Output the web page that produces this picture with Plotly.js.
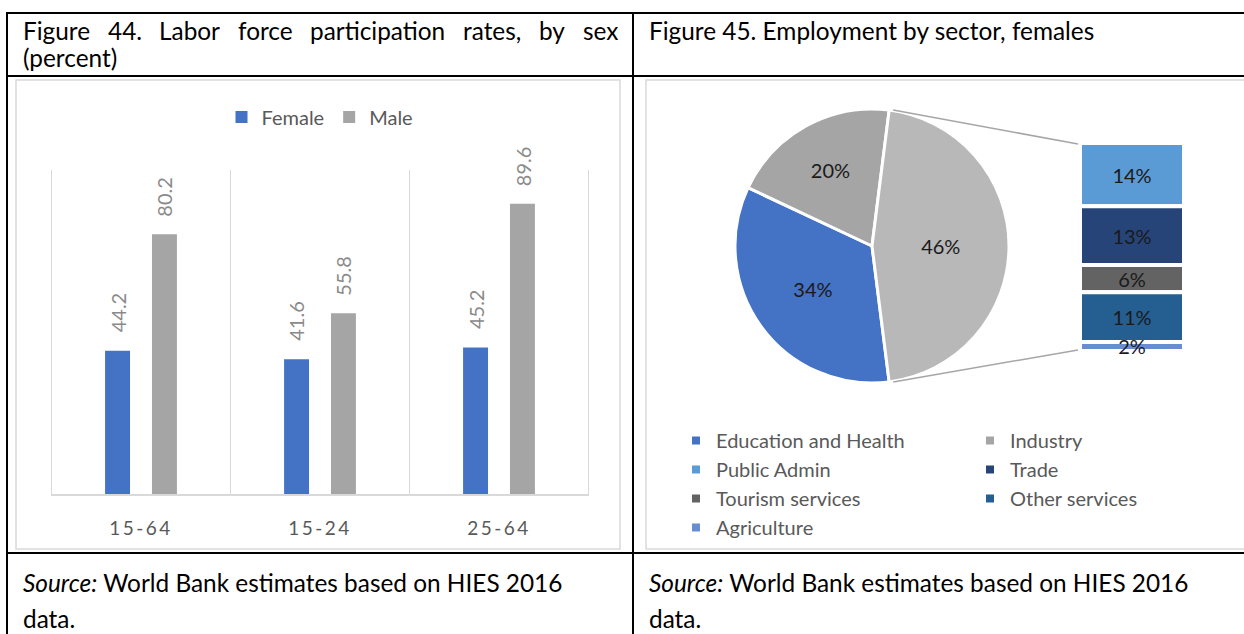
<!DOCTYPE html>
<html><head><meta charset="utf-8">
<script src="https://cdn.plot.ly/plotly-3.0.1.min.js"></script>
<style>
html,body{margin:0;padding:0;background:#fff;overflow:hidden}
#chart{width:1244px;height:634px}
.xtick text{letter-spacing:2.5px}
</style></head><body><div id="chart"></div><script>
// ---------- data ----------
const ageGroups = ['15-64', '15-24', '25-64'];
const femaleRates = [44.2, 41.6, 45.2];
const maleRates = [80.2, 55.8, 89.6];

const pieLabels = ['Education and Health', 'Industry'];
const pieValues = [34, 20];
const pieColors = ['#4472c4', '#a5a5a5'];
const otherSliceColor = '#b8b8b8';

const breakoutLabels = ['Public Admin', 'Trade', 'Tourism services', 'Other services', 'Agriculture'];
const breakoutValues = [14, 13, 6, 11, 2];
const breakoutColors = ['#5b9bd5', '#264478', '#636363', '#255e91', '#698ed0'];

const leftTitleLine1 = 'Figure 44. Labor force participation rates, by sex';
const leftTitleLine2 = '(percent)';
const rightTitle = 'Figure 45. Employment by sector, females';
const sourceItalic = 'Source:';
const sourceRest = ' World Bank estimates based on HIES 2016';
const sourceLine2 = 'data.';

// ---------- page geometry ----------
const W = 1244, H = 634;
const px = x => x / W;
const py = y => 1 - y / H;
const FAM = 'Lato, "Open Sans", "DejaVu Sans", sans-serif';
const WT = 400;

const ctx = document.createElement('canvas').getContext('2d');
function textW(t, size) { ctx.font = WT + ' ' + size + 'px Lato'; return ctx.measureText(t).width; }
const titleSize = 100 * 446 / textW(rightTitle, 100);

// ---------- traces ----------
const BARGAP = 0.476, GROUPGAP = 0.468;
const traces = [
  {type: 'bar', name: 'Female', x: ageGroups, y: femaleRates, marker: {color: '#4472c4'}, hoverinfo: 'skip'},
  {type: 'bar', name: 'Male', x: ageGroups, y: maleRates, marker: {color: '#a5a5a5'}, hoverinfo: 'skip'}
];

const otherTotal = breakoutValues.reduce((a, b) => a + b, 0);
const allPieValues = pieValues.concat([otherTotal]);
const total = allPieValues.reduce((a, b) => a + b, 0);
const otherFrac = otherTotal / total;
const rotation = 90 + 180 * otherFrac; // centre the broken-out slice at 3 o'clock

const PIE = {x0: 735, x1: 1009, y0: 109, y1: 383};
traces.push({
  type: 'pie', labels: pieLabels.concat(['Other']), values: allPieValues,
  marker: {colors: pieColors.concat([otherSliceColor]), line: {color: '#ffffff', width: 3}},
  sort: false, direction: 'clockwise', rotation: rotation,
  texttemplate: '%{percent:.0%}', textposition: 'inside', insidetextorientation: 'horizontal',
  textfont: {family: FAM, size: 20, color: '#1a1a1a', weight: WT},
  domain: {x: [px(PIE.x0), px(PIE.x1)], y: [py(PIE.y1), py(PIE.y0)]},
  showlegend: false, hoverinfo: 'skip'
});

let base = 0;
breakoutLabels.forEach((lab, i) => {
  traces.push({
    type: 'bar', name: lab, x: ['Other'], y: [breakoutValues[i]], base: [base],
    xaxis: 'x2', yaxis: 'y2', offsetgroup: 'stack', width: [1], cliponaxis: false,
    marker: {color: breakoutColors[i], line: {color: '#ffffff', width: 4}},
    text: [breakoutValues[i] + '%'], textposition: 'inside', insidetextanchor: 'middle',
    textfont: {family: FAM, size: 20, color: '#1a1a1a', weight: WT},
    showlegend: false, hoverinfo: 'skip'
  });
  base += breakoutValues[i];
});

// legend entries for the pie + its breakout (two columns)
const legendLabels = pieLabels.concat(breakoutLabels);
const legendColors = pieColors.concat(breakoutColors);
legendLabels.forEach((lab, i) => {
  traces.push({
    type: 'scatter', mode: 'markers', name: lab, x: [null], y: [null],
    marker: {symbol: 'square', size: 8, color: legendColors[i]},
    legend: i % 2 === 0 ? 'legend2' : 'legend3', hoverinfo: 'skip'
  });
});

// ---------- annotations ----------
const ann = [];
const catPx = (589 - 51) / ageGroups.length;
const slotPx = catPx * (1 - BARGAP) / 2;
ageGroups.forEach((g, i) => {
  [femaleRates, maleRates].forEach((arr, k) => {
    ann.push({x: g, y: arr[i], xref: 'x', yref: 'y', text: arr[i].toFixed(1), textangle: -90,
      showarrow: false, xanchor: 'center', yanchor: 'bottom', yshift: 16, xshift: (k - 0.5) * slotPx,
      font: {family: FAM, size: 20, color: '#8a8a8a', weight: WT}});
  });
});

const titleFont = {family: FAM, size: titleSize, color: '#000000', weight: WT};
// justified first line of the left title
const words = leftTitleLine1.split(' ');
const wWidths = words.map(w => textW(w, titleSize));
const gap = ((617 - 22) - wWidths.reduce((a, b) => a + b, 0)) / (words.length - 1);
let cx = 22;
words.forEach((w, i) => {
  ann.push({x: px(cx), y: py(30), xref: 'paper', yref: 'paper', text: w, showarrow: false,
    xanchor: 'left', yanchor: 'middle', borderpad: 0, font: titleFont});
  cx += wWidths[i] + gap;
});
function note(text, x, y) {
  ann.push({x: px(x), y: py(y), xref: 'paper', yref: 'paper', text: text, showarrow: false,
    xanchor: 'left', yanchor: 'middle', borderpad: 0, font: titleFont});
}
note(leftTitleLine2, 22, 58);
note(rightTitle, 648, 30);
note('<i>' + sourceItalic + '</i>' + sourceRest, 22, 582);
note(sourceLine2, 22, 618);
note('<i>' + sourceItalic + '</i>' + sourceRest, 648, 582);
note(sourceLine2, 648, 618);

// ---------- shapes ----------
const shapes = [];
function line(x0, y0, x1, y1, color, width) {
  shapes.push({type: 'line', xref: 'paper', yref: 'paper', x0: px(x0), y0: py(y0), x1: px(x1), y1: py(y1),
    line: {color: color, width: width}});
}
function rect(x0, y0, x1, y1, color, width) {
  shapes.push({type: 'rect', xref: 'paper', yref: 'paper', x0: px(x0), y0: py(y0), x1: px(x1), y1: py(y1),
    line: {color: color, width: width}, fillcolor: 'rgba(0,0,0,0)', layer: 'below'});
}
rect(16, 80, 620, 549, '#d9d9d9', 1.5);
rect(646, 80, 1252, 549, '#d9d9d9', 1.5);
line(7, 13, 1250, 13, '#000000', 2);
line(7, 76, 1250, 76, '#000000', 2);
line(7, 553, 1250, 553, '#000000', 2);
line(7, 12, 7, 640, '#000000', 2);
line(633, 12, 633, 640, '#000000', 2);
// outer category-boundary grid lines of the bar chart
[-0.5, ageGroups.length - 0.5].forEach(v => {
  shapes.push({type: 'line', xref: 'x', yref: 'y', x0: v, x1: v, y0: 0, y1: 100,
    line: {color: '#d9d9d9', width: 1}, layer: 'below'});
});

// connector lines from the broken-out slice to the stacked bar
const pcx = (PIE.x0 + PIE.x1) / 2, pcy = (PIE.y0 + PIE.y1) / 2, pr = (PIE.x1 - PIE.x0) / 2;
const STACK = {x0: 1080, x1: 1184, y0: 143, y1: 351};
const aTop = (rotation + 360 * (1 - otherFrac)) * Math.PI / 180;
const aBot = rotation * Math.PI / 180;
line(pcx + pr * Math.sin(aTop) + 4, pcy - pr * Math.cos(aTop), STACK.x0 - 2, STACK.y0 + 1, '#a6a6a6', 1.5);
line(pcx + pr * Math.sin(aBot) + 4, pcy - pr * Math.cos(aBot), STACK.x0 - 2, STACK.y1 - 1, '#a6a6a6', 1.5);

// ---------- layout ----------
const layout = {
  width: W, height: H, margin: {l: 0, r: 0, t: 0, b: 0},
  paper_bgcolor: '#ffffff', plot_bgcolor: 'rgba(0,0,0,0)',
  barmode: 'group', bargap: BARGAP, bargroupgap: GROUPGAP,
  font: {family: FAM, color: '#595959'},
  xaxis: {domain: [px(51), px(589)], type: 'category', tickson: 'boundaries', showgrid: true,
    gridcolor: '#d9d9d9', gridwidth: 1, showline: true, linecolor: '#d9d9d9', linewidth: 1.5,
    ticks: '', ticklabelstandoff: 17, tickfont: {family: FAM, size: 19, color: '#595959', weight: WT},
    zeroline: false, fixedrange: true, anchor: 'y'},
  yaxis: {domain: [py(494), py(170)], range: [0, 100], showgrid: false, zeroline: false,
    showticklabels: false, showline: false, ticks: '', fixedrange: true, anchor: 'x'},
  xaxis2: {domain: [px(STACK.x0), px(STACK.x1)], type: 'category', range: [-0.5, 0.5], visible: false,
    anchor: 'y2', fixedrange: true},
  yaxis2: {domain: [py(STACK.y1), py(STACK.y0)], range: [otherTotal, 0], visible: false,
    anchor: 'x2', fixedrange: true},
  showlegend: true,
  legend: {orientation: 'h', x: px(320), xanchor: 'center', y: py(117), yanchor: 'middle',
    font: {family: FAM, size: 20, color: '#595959', weight: WT}, bgcolor: 'rgba(0,0,0,0)'},
  legend2: {orientation: 'v', x: px(676), xanchor: 'left', y: py(421), yanchor: 'top',
    font: {family: FAM, size: 20, color: '#595959', weight: WT}, bgcolor: 'rgba(0,0,0,0)'},
  legend3: {orientation: 'v', x: px(970), xanchor: 'left', y: py(421), yanchor: 'top',
    font: {family: FAM, size: 20, color: '#595959', weight: WT}, bgcolor: 'rgba(0,0,0,0)'},
  uniformtext: {minsize: 20, mode: 'show'},
  annotations: ann, shapes: shapes
};

Plotly.newPlot('chart', traces, layout, {displayModeBar: false, staticPlot: true});
</script></body></html>
